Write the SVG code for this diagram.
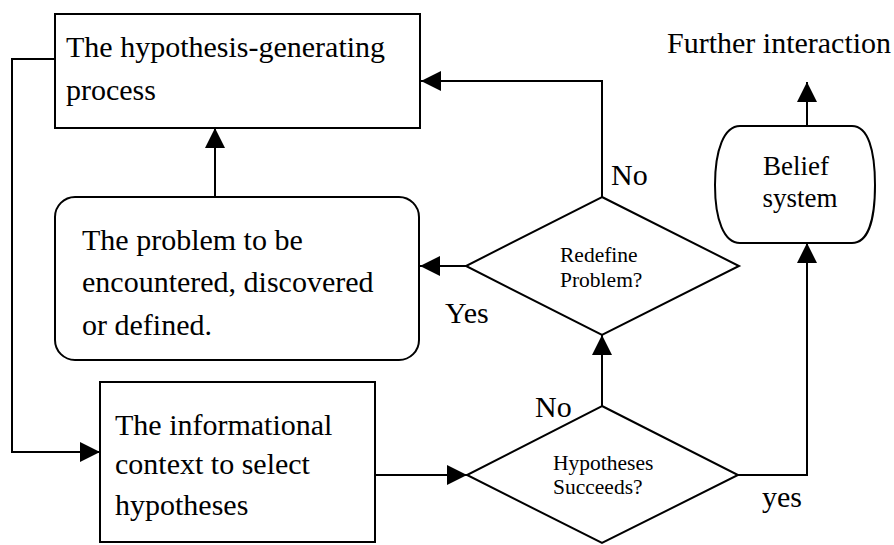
<svg xmlns="http://www.w3.org/2000/svg" width="894" height="545" viewBox="0 0 894 545">
  <style>
    .shape { fill: #ffffff; stroke: #000000; stroke-width: 2; }
    .edge { fill: none; stroke: #000000; stroke-width: 2; marker-end: url(#arrow); }
    .big { font-family: "Liberation Serif", "Times New Roman", serif; font-size: 30px; fill: #000000; }
    .small { font-family: "Liberation Serif", "Times New Roman", serif; font-size: 21.5px; fill: #000000; }
    .mid { font-family: "Liberation Serif", "Times New Roman", serif; font-size: 27px; fill: #000000; }
  </style>
  <defs>
    <marker id="arrow" markerUnits="userSpaceOnUse" markerWidth="20" markerHeight="20" refX="20" refY="10" orient="auto">
      <path d="M0,0 L20,10 L0,20 Z" fill="#000000"/>
    </marker>
  </defs>
  <rect width="894" height="545" fill="#ffffff"/>

  <!-- connectors -->
  <g id="connectors">
    <path class="edge" d="M55,59 H12 V452 H100"/>
    <path class="edge" d="M215,197 V128"/>
    <path class="edge" d="M602,197 V81 H421"/>
    <path class="edge" d="M467,266 H420"/>
    <path class="edge" d="M375,475 H467"/>
    <path class="edge" d="M602,406 V335"/>
    <path class="edge" d="M738,475 H807 V243"/>
    <path class="edge" d="M807,126 V82"/>
    <text class="big" x="611" y="185">No</text>
    <text class="big" x="445" y="323">Yes</text>
    <text class="big" x="535" y="417">No</text>
    <text class="big" x="762" y="507">yes</text>
  </g>

  <!-- hypothesis-generating process -->
  <g id="hypothesis-generating">
    <rect class="shape" x="55" y="14" width="365" height="114"/>
    <text class="big" x="66" y="57">The hypothesis-generating</text>
    <text class="big" x="66" y="100">process</text>
  </g>

  <!-- problem statement -->
  <g id="problem">
    <rect class="shape" x="55" y="197" width="364" height="163" rx="20" ry="20"/>
    <text class="big" x="82" y="250">The problem to be</text>
    <text class="big" x="82" y="292">encountered, discovered</text>
    <text class="big" x="82" y="335">or defined.</text>
  </g>

  <!-- informational context -->
  <g id="informational-context">
    <rect class="shape" x="100" y="382" width="275" height="160"/>
    <text class="big" x="115" y="435">The informational</text>
    <text class="big" x="115" y="474">context to select</text>
    <text class="big" x="115" y="515">hypotheses</text>
  </g>

  <!-- decision: redefine problem -->
  <g id="redefine">
    <polygon class="shape" points="602,197 739,266 602,335 466,266"/>
    <text class="small" x="560" y="262">Redefine</text>
    <text class="small" x="560" y="287">Problem?</text>
  </g>

  <!-- decision: hypotheses succeed -->
  <g id="succeeds">
    <polygon class="shape" points="602,406 738,475 602,543 467,475"/>
    <text class="small" x="553" y="470">Hypotheses</text>
    <text class="small" x="553" y="494">Succeeds?</text>
  </g>

  <!-- belief system -->
  <g id="belief">
    <path class="shape" d="M740,126 H852 C868,126 875,150 875,185 C875,220 868,243 852,243 H740 C724,243 715,220 715,185 C715,150 724,126 740,126 Z"/>
    <text class="mid" x="796" y="175" text-anchor="middle">Belief</text>
    <text class="mid" x="800" y="207" text-anchor="middle">system</text>
  </g>

  <!-- outcome -->
  <g id="further">
    <text class="big" x="667" y="53">Further interaction</text>
  </g>
</svg>
